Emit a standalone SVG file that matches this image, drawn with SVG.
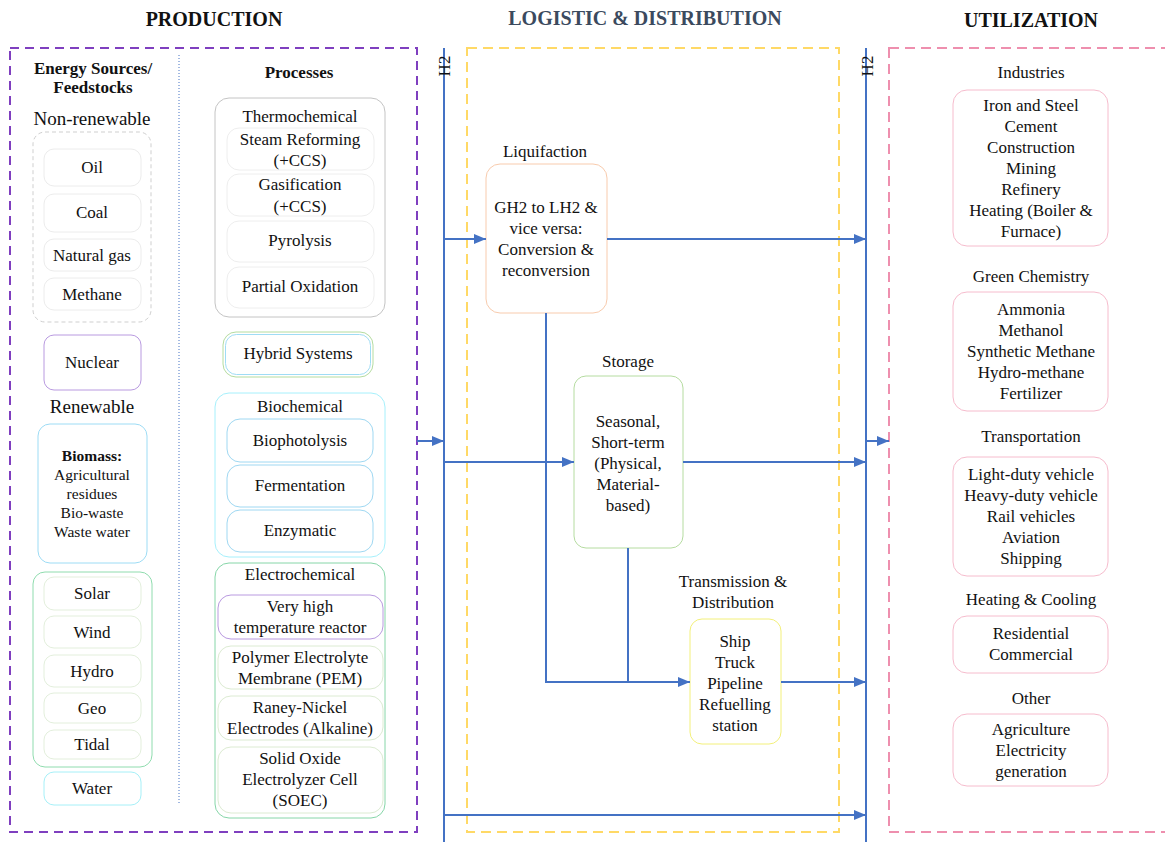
<svg xmlns="http://www.w3.org/2000/svg" width="1165" height="842" viewBox="0 0 1165 842">
<style>
text{font-family:"Liberation Serif","Times New Roman",serif;font-size:17px;fill:#111;text-anchor:middle}
.title{font-size:20px;font-weight:bold}
.b{font-weight:bold}
.big{font-size:19px}
.sm{font-size:15.5px}
.box{fill:#fff;stroke-width:1}
.line{fill:none;stroke:#4472c4;stroke-width:2}
</style>
<defs>
<marker id="arr" markerUnits="userSpaceOnUse" markerWidth="12" markerHeight="12" viewBox="0 0 12 12" refX="12" refY="6" orient="auto">
<path d="M0,1 L12,6 L0,11 Z" fill="#4472c4"/>
</marker>
</defs>
<rect width="1165" height="842" fill="#fff"/>

<!-- titles -->
<text class="title" x="214" y="26">PRODUCTION</text>
<text class="title" x="645" y="25" style="fill:#3b4a5e">LOGISTIC &amp; DISTRIBUTION</text>
<text class="title" x="1031" y="27">UTILIZATION</text>

<!-- section frames -->
<rect x="10" y="48" width="407" height="784" fill="none" stroke="#7f3fbf" stroke-width="2" stroke-dasharray="9 6"/>
<line x1="179" y1="55" x2="179" y2="805" stroke="#4472c4" stroke-width="1" stroke-dasharray="1 2"/>
<rect x="467" y="48" width="372" height="784" fill="none" stroke="#ffd966" stroke-width="2" stroke-dasharray="10 6"/>
<rect x="889" y="48" width="285" height="784" fill="none" stroke="#ee8fae" stroke-width="2" stroke-dasharray="10 6"/>

<!-- Energy sources column -->
<g id="sources-header">
<text class="b" x="93" y="74">Energy Sources/</text>
<text class="b" x="93" y="93">Feedstocks</text>
</g>
<g id="nonrenewable">
<text class="big" x="92" y="125">Non-renewable</text>
<rect x="33" y="132" width="118" height="190" rx="12" fill="none" stroke="#cfcfcf" stroke-dasharray="4 3"/>
</g>
<g id="oil"><rect class="box" x="44" y="149" width="97" height="37" rx="10" stroke="#ececec"/><text x="92" y="173">Oil</text></g>
<g id="coal"><rect class="box" x="44" y="194" width="97" height="38" rx="10" stroke="#ececec"/><text x="92" y="218">Coal</text></g>
<g id="natural-gas"><rect class="box" x="44" y="239" width="97" height="32" rx="10" stroke="#ececec"/><text x="92" y="261">Natural gas</text></g>
<g id="methane"><rect class="box" x="44" y="278" width="97" height="32" rx="10" stroke="#ececec"/><text x="92" y="300">Methane</text></g>
<g id="nuclear"><rect class="box" x="44" y="335" width="97" height="55" rx="10" stroke="#b99ae0"/><text x="92" y="368">Nuclear</text></g>
<g id="renewable-label"><text class="big" x="92" y="413">Renewable</text></g>
<g id="biomass">
<rect class="box" x="38" y="424" width="109" height="139" rx="12" stroke="#9ddcf5"/>
<text class="sm b" x="92" y="461">Biomass:</text>
<text class="sm" x="92" y="480">Agricultural</text>
<text class="sm" x="92" y="499">residues</text>
<text class="sm" x="92" y="518">Bio-waste</text>
<text class="sm" x="92" y="537">Waste water</text>
</g>
<g id="renewables-group"><rect x="33" y="572" width="119" height="195" rx="12" fill="none" stroke="#8fdcae"/></g>
<g id="solar"><rect class="box" x="44" y="577" width="97" height="33" rx="10" stroke="#e3efdc"/><text x="92" y="599">Solar</text></g>
<g id="wind"><rect class="box" x="44" y="616" width="97" height="32" rx="10" stroke="#e3efdc"/><text x="92" y="638">Wind</text></g>
<g id="hydro"><rect class="box" x="44" y="655" width="97" height="32" rx="10" stroke="#e3efdc"/><text x="92" y="677">Hydro</text></g>
<g id="geo"><rect class="box" x="44" y="693" width="97" height="30" rx="10" stroke="#e3efdc"/><text x="92" y="714">Geo</text></g>
<g id="tidal"><rect class="box" x="44" y="730" width="97" height="29" rx="10" stroke="#e3efdc"/><text x="92" y="750">Tidal</text></g>
<g id="water"><rect class="box" x="44" y="772" width="97" height="33" rx="10" stroke="#a6f0f8"/><text x="92" y="794">Water</text></g>

<!-- Processes column -->
<g id="processes-header"><text class="b" x="299" y="78">Processes</text></g>
<g id="thermochemical">
<rect class="box" x="215" y="98" width="170" height="219" rx="14" stroke="#c4c4c4"/>
<text x="300" y="122">Thermochemical</text>
</g>
<g id="steam-reforming"><rect class="box" x="227" y="128" width="147" height="42" rx="12" stroke="#eeeeee"/><text x="300" y="145">Steam Reforming</text><text x="300" y="166">(+CCS)</text></g>
<g id="gasification"><rect class="box" x="227" y="174" width="147" height="42" rx="12" stroke="#eeeeee"/><text x="300" y="190">Gasification</text><text x="300" y="212">(+CCS)</text></g>
<g id="pyrolysis"><rect class="box" x="227" y="221" width="147" height="41" rx="12" stroke="#eeeeee"/><text x="300" y="246">Pyrolysis</text></g>
<g id="partial-oxidation"><rect class="box" x="227" y="267" width="147" height="41" rx="12" stroke="#eeeeee"/><text x="300" y="292">Partial Oxidation</text></g>
<g id="hybrid-systems">
<rect class="box" x="223" y="332" width="150" height="45" rx="13" stroke="#b5dca0"/>
<rect x="225.5" y="334.5" width="145" height="40" rx="11" fill="none" stroke="#9fdcf5"/>
<text x="298" y="359">Hybrid Systems</text>
</g>
<g id="biochemical">
<rect class="box" x="215" y="393" width="170" height="164" rx="14" stroke="#a6f0fc"/>
<text x="300" y="412">Biochemical</text>
</g>
<g id="biophotolysis"><rect class="box" x="227" y="419" width="146" height="43" rx="13" stroke="#9fd8f2"/><text x="300" y="446">Biophotolysis</text></g>
<g id="fermentation"><rect class="box" x="227" y="465" width="146" height="42" rx="13" stroke="#9fd8f2"/><text x="300" y="491">Fermentation</text></g>
<g id="enzymatic"><rect class="box" x="227" y="510" width="146" height="42" rx="13" stroke="#9fd8f2"/><text x="300" y="536">Enzymatic</text></g>
<g id="electrochemical">
<rect class="box" x="215" y="563" width="170" height="255" rx="14" stroke="#86d6a8"/>
<text x="300" y="580">Electrochemical</text>
</g>
<g id="vhtr"><rect class="box" x="218" y="595" width="165" height="44" rx="13" stroke="#b99ae0"/><text x="300" y="612">Very high</text><text x="300" y="633">temperature reactor</text></g>
<g id="pem"><rect class="box" x="218" y="646" width="165" height="43" rx="13" stroke="#dcebd2"/><text x="300" y="663">Polymer Electrolyte</text><text x="300" y="684">Membrane (PEM)</text></g>
<g id="raney"><rect class="box" x="218" y="696" width="165" height="44" rx="13" stroke="#dcebd2"/><text x="300" y="713">Raney-Nickel</text><text x="300" y="734">Electrodes (Alkaline)</text></g>
<g id="soec"><rect class="box" x="218" y="747" width="165" height="66" rx="13" stroke="#dcebd2"/><text x="300" y="764">Solid Oxide</text><text x="300" y="785">Electrolyzer Cell</text><text x="300" y="806">(SOEC)</text></g>

<!-- Logistic nodes -->
<g id="liquifaction">
<text x="545" y="157">Liquifaction</text>
<rect class="box" x="486" y="164" width="121" height="149" rx="14" stroke="#f8cbad"/>
<text x="546" y="213">GH2 to LH2 &amp;</text>
<text x="546" y="234">vice versa:</text>
<text x="546" y="255">Conversion &amp;</text>
<text x="546" y="276">reconversion</text>
</g>
<g id="storage">
<text x="628" y="367">Storage</text>
<rect class="box" x="574" y="376" width="109" height="172" rx="12" stroke="#b5dca0"/>
<text x="628" y="427">Seasonal,</text>
<text x="628" y="448">Short-term</text>
<text x="628" y="469">(Physical,</text>
<text x="628" y="490">Material-</text>
<text x="628" y="511">based)</text>
</g>
<g id="transmission">
<text x="733" y="587">Transmission &amp;</text>
<text x="733" y="608">Distribution</text>
<rect class="box" x="690" y="619" width="91" height="125" rx="12" stroke="#f3f07a"/>
<text x="735" y="647">Ship</text>
<text x="735" y="668">Truck</text>
<text x="735" y="689">Pipeline</text>
<text x="735" y="710">Refuelling</text>
<text x="735" y="731">station</text>
</g>

<!-- Utilization nodes -->
<g id="industries">
<text x="1031" y="78">Industries</text>
<rect class="box" x="953" y="90" width="155" height="156" rx="14" stroke="#f6bccd"/>
<text x="1031" y="111">Iron and Steel</text>
<text x="1031" y="132">Cement</text>
<text x="1031" y="153">Construction</text>
<text x="1031" y="174">Mining</text>
<text x="1031" y="195">Refinery</text>
<text x="1031" y="216">Heating (Boiler &amp;</text>
<text x="1031" y="237">Furnace)</text>
</g>
<g id="green-chemistry">
<text x="1031" y="282">Green Chemistry</text>
<rect class="box" x="953" y="292" width="155" height="119" rx="14" stroke="#f6bccd"/>
<text x="1031" y="315">Ammonia</text>
<text x="1031" y="336">Methanol</text>
<text x="1031" y="357">Synthetic Methane</text>
<text x="1031" y="378">Hydro-methane</text>
<text x="1031" y="399">Fertilizer</text>
</g>
<g id="transportation">
<text x="1031" y="442">Transportation</text>
<rect class="box" x="953" y="457" width="155" height="119" rx="14" stroke="#f6bccd"/>
<text x="1031" y="480">Light-duty vehicle</text>
<text x="1031" y="501">Heavy-duty vehicle</text>
<text x="1031" y="522">Rail vehicles</text>
<text x="1031" y="543">Aviation</text>
<text x="1031" y="564">Shipping</text>
</g>
<g id="heating-cooling">
<text x="1031" y="605">Heating &amp; Cooling</text>
<rect class="box" x="953" y="616" width="155" height="57" rx="14" stroke="#f6bccd"/>
<text x="1031" y="639">Residential</text>
<text x="1031" y="660">Commercial</text>
</g>
<g id="other">
<text x="1031" y="704">Other</text>
<rect class="box" x="953" y="714" width="155" height="72" rx="14" stroke="#f6bccd"/>
<text x="1031" y="735">Agriculture</text>
<text x="1031" y="756">Electricity</text>
<text x="1031" y="777">generation</text>
</g>

<!-- H2 buses -->
<g id="h2-bus-left">
<line class="line" x1="444" y1="48" x2="444" y2="842"/>
<text transform="translate(450,66) rotate(-90)" x="0" y="0">H2</text>
</g>
<g id="h2-bus-right">
<line class="line" x1="866" y1="48" x2="866" y2="842"/>
<text transform="translate(873,66) rotate(-90)" x="0" y="0">H2</text>
</g>

<!-- connectors -->
<g id="connectors">
<path class="line" d="M417,441 H444" marker-end="url(#arr)"/>
<path class="line" d="M444,239 H486" marker-end="url(#arr)"/>
<path class="line" d="M607,239 H866" marker-end="url(#arr)"/>
<path class="line" d="M444,462 H574" marker-end="url(#arr)"/>
<path class="line" d="M683,462 H866" marker-end="url(#arr)"/>
<path class="line" d="M546,313 V682 H690" marker-end="url(#arr)"/>
<path class="line" d="M628,548 V682"/>
<path class="line" d="M781,682 H866" marker-end="url(#arr)"/>
<path class="line" d="M444,815 H866" marker-end="url(#arr)"/>
<path class="line" d="M866,441 H889" marker-end="url(#arr)"/>
</g>
</svg>
